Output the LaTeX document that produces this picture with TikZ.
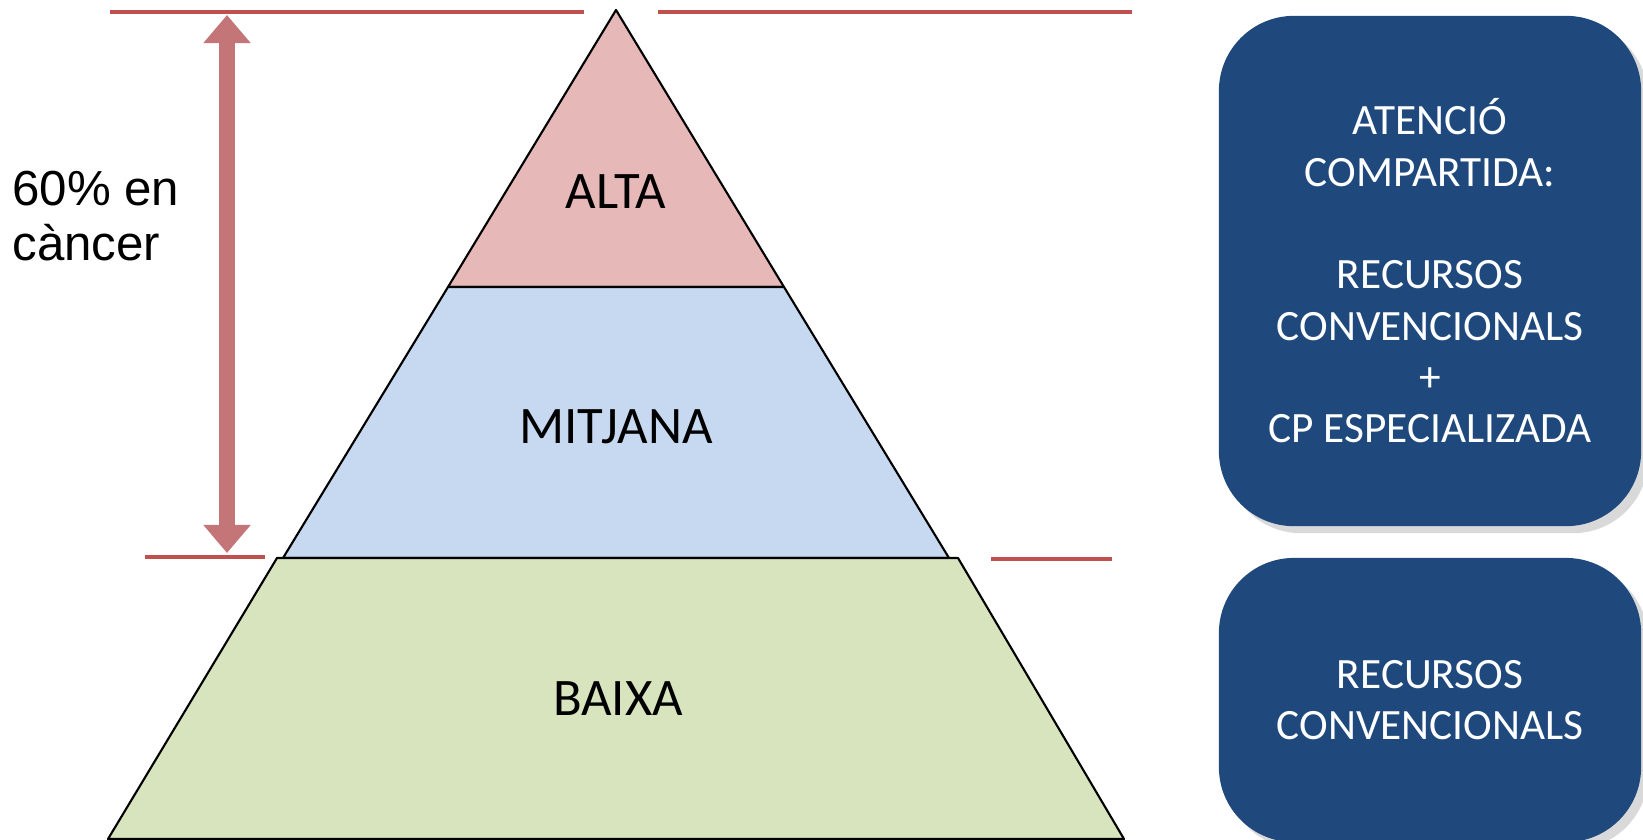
\documentclass[tikz,border=0pt]{standalone}
\usepackage{fontspec}
\setmainfont{Carlito}
\newfontfamily\arialfont{Liberation Sans}
\usetikzlibrary{arrows.meta, positioning, calc, shadows}
\definecolor{altafill}{HTML}{E6B9B8}
\definecolor{mitjfill}{HTML}{C6D9F1}
\definecolor{baixfill}{HTML}{D7E4BD}
\definecolor{boxblue}{HTML}{1F497D}
\definecolor{markred}{HTML}{C0504D}
\definecolor{arrowred}{HTML}{C47577}

\begin{document}
\begin{tikzpicture}[x=0.01cm, y=-0.01cm,
    level/.style={draw=black, line width=0.6pt, line join=round},
    levellabel/.style={font=\fontsize{15}{18}\selectfont, text=black},
    markline/.style={markred, line width=1.3pt},
    care/.style={rectangle, fill=boxblue, rounded corners=0.75cm, minimum width=4.22cm, text=white, align=center, font=\fontsize{12.3}{14.6}\selectfont, drop shadow={opacity=0.3, shadow xshift=2pt, shadow yshift=-2pt}},
    arrow/.style={arrowred, line width=4.8pt, {Triangle[width=13pt,length=8pt]}-{Triangle[width=13pt,length=8pt]}}]
    \useasboundingbox (0,0) rectangle (1643,839);
    % pyramid corners
    \coordinate (apex) at (616,10);
    \coordinate (altaL) at (448,287);
    \coordinate (altaR) at (784,287);
    \coordinate (mitjL) at (283,558);
    \coordinate (mitjR) at (949,558);
    \coordinate (baixTL) at (277,558);
    \coordinate (baixTR) at (958,558);
    \coordinate (baixBL) at (108,839);
    \coordinate (baixBR) at (1124,839);
    \draw [level, fill=altafill] (apex) -- (altaR) -- (altaL) -- cycle;
    \draw [level, fill=mitjfill] (altaL) -- (altaR) -- (mitjR) -- (mitjL) -- cycle;
    \draw [level, fill=baixfill] (baixTL) -- (baixTR) -- (baixBR) -- (baixBL) -- cycle;
    \node [levellabel] (alta) at (616,192) {ALTA};
    \node [levellabel] (mitjana) at (616,427) {MITJANA};
    \node [levellabel] (baixa) at (618,699) {BAIXA};
    % red marks
    \coordinate (topA) at (110,12);
    \coordinate (topB) at (584,12);
    \coordinate (topC) at (658,12);
    \coordinate (topD) at (1132,12);
    \coordinate (midA) at (145,557);
    \coordinate (midB) at (265,557);
    \coordinate (midC) at (991,559);
    \coordinate (midD) at (1112,559);
    \draw [markline] (topA) -- (topB);
    \draw [markline] (topC) -- (topD);
    \draw [markline] (midA) -- (midB);
    \draw [markline] (midC) -- (midD);
    \coordinate (spanTop) at (227,15);
    \coordinate (spanBot) at (227,553);
    \draw [arrow] (spanTop) -- (spanBot);
    \node [anchor=west, align=left, font=\arialfont\fontsize{14}{15.5}\selectfont] (share) at (0,216) {60\% en\\càncer};
    % care boxes
    \node [care, minimum height=5.1cm] (shared) at (1430,271) {ATENCIÓ\\COMPARTIDA:\\[14.6pt]RECURSOS\\CONVENCIONALS\\+\\CP ESPECIALIZADA};
    \node [care, minimum height=2.84cm] (conv) at (1430,700) {RECURSOS\\CONVENCIONALS};
\end{tikzpicture}
\end{document}
